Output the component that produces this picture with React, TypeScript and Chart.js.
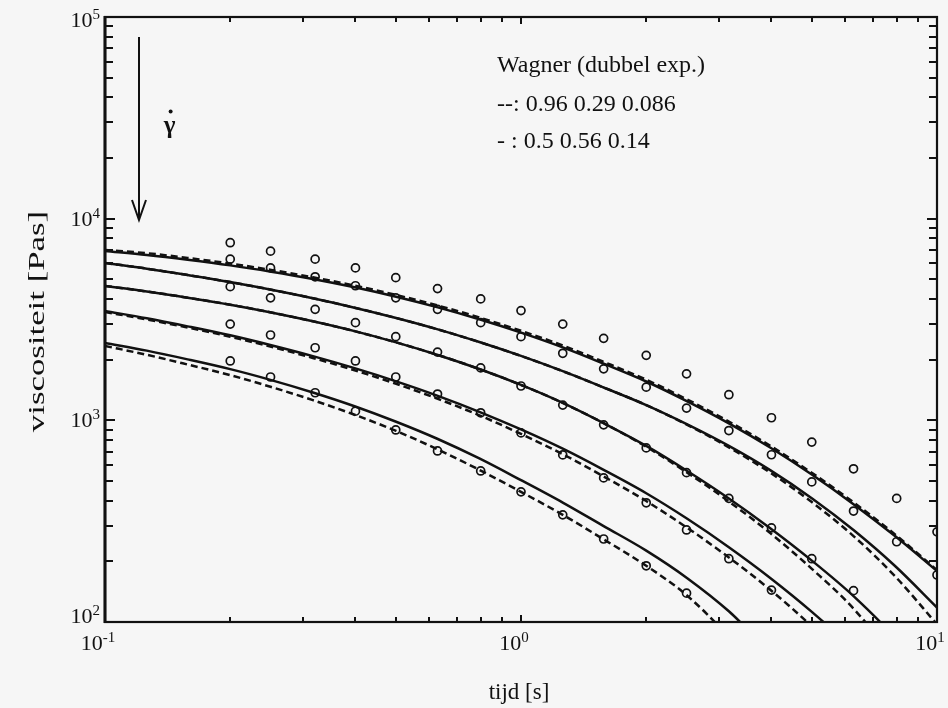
import React, { useEffect, useRef } from "react";
import { Chart, registerables } from "chart.js";

Chart.register(...registerables);

// ---------- data ----------
const circleX = [0.2, 0.25, 0.32, 0.4, 0.5, 0.63, 0.8, 1.0, 1.26, 1.58, 2.0, 2.5, 3.16, 4.0, 5.0, 6.3, 8.0, 10.0];
const series1 = [7600, 6900, 6300, 5700, 5100, 4500, 4000, 3500, 3000, 2550, 2100, 1700, 1340, 1030, 780, 575, 410, 280];
const series2 = [6300, 5700, 5150, 4650, 4050, 3550, 3050, 2600, 2150, 1800, 1460, 1150, 890, 675, 495, 355, 250, 171];
const series3 = [4600, 4050, 3550, 3050, 2600, 2180, 1820, 1480, 1190, 950, 730, 550, 410, 293, 206, 143];
const series4 = [3000, 2650, 2290, 1970, 1640, 1350, 1090, 866, 674, 518, 390, 286, 206, 144];
const series5 = [1970, 1640, 1370, 1110, 896, 705, 561, 442, 340, 258, 190, 139];

// model curves (Wagner, double exponential) read at these times
const curveX = [0.1, 0.126, 0.158, 0.2, 0.251, 0.316, 0.398, 0.501, 0.631, 0.794, 1.0, 1.26, 1.58, 2.0, 2.51, 3.16, 3.98, 5.01, 6.31, 7.94, 10.0];
const fit1Solid = [6917, 6607, 6255, 5867, 5455, 5019, 4565, 4100, 3632, 3171, 2724, 2301, 1910, 1558, 1242, 966, 731, 537, 383, 266, 179];
const fit1Dashed = [6997, 6744, 6385, 5989, 5568, 5123, 4660, 4185, 3708, 3237, 2781, 2349, 1950, 1590, 1268, 986, 746, 548, 391, 271, 181];
const fit2Solid = [6031, 5650, 5253, 4849, 4441, 4030, 3620, 3218, 2826, 2445, 2086, 1753, 1455, 1190, 955, 747, 565, 410, 285, 189, 118];
const fit2Dashed = [6031, 5650, 5253, 4849, 4441, 4030, 3620, 3218, 2826, 2445, 2086, 1753, 1455, 1190, 950, 735, 549, 392, 266, 168, 97.4];
const fit3Solid = [4638, 4356, 4058, 3746, 3427, 3099, 2769, 2436, 2109, 1796, 1498, 1220, 968, 747, 561, 410, 291, 201, 134, 82.9, 44.3];
const fit3Dashed = [4638, 4356, 4058, 3746, 3427, 3099, 2769, 2436, 2109, 1796, 1498, 1220, 968, 740, 550, 396, 275, 183, 116, 64.1, 28.8];
const fit4Solid = [3486, 3207, 2924, 2639, 2357, 2081, 1814, 1561, 1323, 1102, 901, 723, 568, 435, 325, 235, 165, 112, 72.6, 43.5, 23.2];
const fit4Dashed = [3446, 3164, 2885, 2598, 2315, 2039, 1771, 1518, 1278, 1059, 856, 679, 527, 398, 293, 209, 144, 94.6, 57.9, 32.7];
const fit5Solid = [2419, 2216, 2006, 1794, 1583, 1375, 1175, 984, 808, 647, 505, 391, 299, 226, 165, 113, 70.3];
const fit5Dashed = [2338, 2114, 1891, 1675, 1463, 1259, 1066, 886, 717, 568, 442, 340, 257, 190, 135, 83.4, 43.5];

const xMin = 0.1;
const xMax = 10;
const yMin = 100;
const yMax = 100000;

const xTitle = "tijd [s]";
const yTitle = "viscositeit [Pas]";
const noteLines = ["Wagner (dubbel exp.)", "--: 0.96 0.29 0.086", "- : 0.5 0.56 0.14"];
const gammaText = "γ";

// annotation anchors (data coordinates)
const noteX = 0.876;
const noteY = [53400, 34200, 22400];
const arrowX = 0.1207;
const arrowTop = 79600;
const arrowTip = 9850;
const gammaX = 0.143;
const gammaY = 30000;

// ---------- helpers ----------
const SERIF = '"Liberation Serif", "Times New Roman", serif';
const INK = "#111111";

function pts(xs: number[], ys: number[]) {
  return ys.map((y, i) => ({ x: xs[i], y }));
}

function logTicks(min: number, max: number) {
  const out: number[] = [];
  const e0 = Math.floor(Math.log10(min));
  const e1 = Math.ceil(Math.log10(max));
  for (let e = e0; e <= e1; e++) {
    for (let k = 1; k < 10; k++) {
      const v = k * Math.pow(10, e);
      if (v >= min * 0.999 && v <= max * 1.001) out.push(v);
    }
  }
  return out;
}

function isDecade(v: number) {
  const l = Math.log10(v);
  return Math.abs(l - Math.round(l)) < 1e-6;
}

function drawPow(ctx: CanvasRenderingContext2D, exp: string, cx: number, baseline: number, align: "right" | "center") {
  ctx.font = `22px ${SERIF}`;
  const w1 = ctx.measureText("10").width;
  ctx.font = `15px ${SERIF}`;
  const w2 = ctx.measureText(exp).width;
  const total = w1 + w2;
  const left = align === "right" ? cx - total : cx - total / 2;
  ctx.textAlign = "left";
  ctx.textBaseline = "alphabetic";
  ctx.font = `22px ${SERIF}`;
  ctx.fillText("10", left, baseline);
  ctx.font = `15px ${SERIF}`;
  ctx.fillText(exp, left + w1, baseline - 8);
}

const framePlugin = {
  id: "frameTicks",
  afterDraw(chart: any) {
    const { ctx, chartArea: a, scales } = chart;
    const xs = scales.x;
    const ys = scales.y;
    ctx.save();
    ctx.strokeStyle = INK;
    ctx.fillStyle = INK;
    ctx.lineCap = "butt";

    // frame
    ctx.lineWidth = 2.2;
    ctx.strokeRect(a.left, a.top, a.right - a.left, a.bottom - a.top);
    ctx.lineWidth = 3;
    ctx.beginPath();
    ctx.moveTo(a.left, a.top - 1);
    ctx.lineTo(a.left, a.bottom + 1);
    ctx.stroke();

    // y ticks (inward, both sides)
    ctx.lineWidth = 2;
    for (const v of logTicks(ys.min, ys.max)) {
      const p = Math.round(ys.getPixelForValue(v));
      const len = isDecade(v) ? 10 : 8;
      ctx.beginPath();
      ctx.moveTo(a.left, p);
      ctx.lineTo(a.left + len, p);
      ctx.moveTo(a.right, p);
      ctx.lineTo(a.right - len, p);
      ctx.stroke();
    }
    // x ticks (inward, top and bottom)
    for (const v of logTicks(xs.min, xs.max)) {
      const p = Math.round(xs.getPixelForValue(v));
      const len = isDecade(v) ? 7 : 5;
      ctx.beginPath();
      ctx.moveTo(p, a.bottom);
      ctx.lineTo(p, a.bottom - len);
      ctx.moveTo(p, a.top);
      ctx.lineTo(p, a.top + len);
      ctx.stroke();
    }

    // y decade labels
    for (const v of logTicks(ys.min, ys.max)) {
      if (!isDecade(v)) continue;
      const e = Math.round(Math.log10(v));
      let p = ys.getPixelForValue(v);
      if (v >= ys.max * 0.999) p += 3;
      if (v <= ys.min * 1.001) p -= 6;
      drawPow(ctx, String(e), a.left - 5, p + 7, "right");
    }
    // x decade labels
    for (const v of logTicks(xs.min, xs.max)) {
      if (!isDecade(v)) continue;
      const e = Math.round(Math.log10(v));
      const p = xs.getPixelForValue(v);
      drawPow(ctx, String(e), p - 7, a.bottom + 28, "center");
    }

    // axis titles
    ctx.font = `23px ${SERIF}`;
    ctx.textAlign = "center";
    ctx.textBaseline = "alphabetic";
    ctx.fillText(xTitle, (a.left + a.right) / 2 - 2, a.bottom + 77);
    ctx.save();
    ctx.translate(44, (a.top + a.bottom) / 2 + 2);
    ctx.rotate(-Math.PI / 2);
    ctx.scale(1.45, 1);
    ctx.font = `24px ${SERIF}`;
    ctx.fillText(yTitle, 0, 0);
    ctx.restore();

    // note text
    ctx.font = `24px ${SERIF}`;
    ctx.textAlign = "left";
    ctx.textBaseline = "alphabetic";
    noteLines.forEach((t, i) => {
      ctx.fillText(t, xs.getPixelForValue(noteX), ys.getPixelForValue(noteY[i]));
    });

    // shear-rate arrow
    const ax = xs.getPixelForValue(arrowX);
    const at = ys.getPixelForValue(arrowTop);
    const ab = ys.getPixelForValue(arrowTip);
    ctx.lineWidth = 2;
    ctx.beginPath();
    ctx.moveTo(ax, at);
    ctx.lineTo(ax, ab);
    ctx.stroke();
    ctx.beginPath();
    ctx.moveTo(ax - 7, ab - 20);
    ctx.lineTo(ax, ab);
    ctx.lineTo(ax + 7, ab - 20);
    ctx.stroke();

    // gamma-dot label
    const gx = xs.getPixelForValue(gammaX);
    const gy = ys.getPixelForValue(gammaY);
    ctx.font = `bold 25px ${SERIF}`;
    ctx.textAlign = "center";
    ctx.textBaseline = "middle";
    ctx.fillText(gammaText, gx, gy + 4);
    ctx.beginPath();
    ctx.arc(gx + 1, gy - 11, 2, 0, Math.PI * 2);
    ctx.fill();

    ctx.restore();
  },
};

function curve(label: string, ys: number[], dashed: boolean) {
  return {
    label,
    data: pts(curveX, ys),
    showLine: true,
    borderColor: INK,
    backgroundColor: INK,
    borderWidth: 2.5,
    borderDash: dashed ? [7, 4] : [],
    pointRadius: 0,
    pointHoverRadius: 0,
    cubicInterpolationMode: "monotone" as const,
    order: 2,
  };
}

function circles(label: string, ys: number[]) {
  return {
    label,
    data: pts(circleX, ys),
    showLine: false,
    borderColor: INK,
    backgroundColor: "rgba(0,0,0,0)",
    pointStyle: "circle",
    pointRadius: 4,
    pointBorderWidth: 1.7,
    order: 1,
  };
}

export default function App() {
  const ref = useRef<HTMLCanvasElement | null>(null);

  useEffect(() => {
    if (!ref.current) return;
    const chart = new Chart(ref.current, {
      type: "scatter",
      data: {
        datasets: [
          curve("fit 1 (solid)", fit1Solid, false),
          curve("fit 1 (dashed)", fit1Dashed, true),
          curve("fit 2 (solid)", fit2Solid, false),
          curve("fit 2 (dashed)", fit2Dashed, true),
          curve("fit 3 (solid)", fit3Solid, false),
          curve("fit 3 (dashed)", fit3Dashed, true),
          curve("fit 4 (solid)", fit4Solid, false),
          curve("fit 4 (dashed)", fit4Dashed, true),
          curve("fit 5 (solid)", fit5Solid, false),
          curve("fit 5 (dashed)", fit5Dashed, true),
          circles("data 1", series1),
          circles("data 2", series2),
          circles("data 3", series3),
          circles("data 4", series4),
          circles("data 5", series5),
        ] as any,
      },
      options: {
        animation: false,
        responsive: true,
        maintainAspectRatio: false,
        layout: { padding: { left: 105, right: 11, top: 17, bottom: 86 } },
        plugins: { legend: { display: false }, tooltip: { enabled: false } },
        events: [],
        scales: {
          x: { type: "logarithmic", min: xMin, max: xMax, display: false },
          y: { type: "logarithmic", min: yMin, max: yMax, display: false },
        },
      },
      plugins: [framePlugin],
    });
    return () => chart.destroy();
  }, []);

  return (
    <div
      style={{
        position: "absolute",
        left: 0,
        top: 0,
        width: 948,
        height: 708,
        background: "#f6f6f6",
      }}
    >
      <canvas ref={ref} />
    </div>
  );
}
